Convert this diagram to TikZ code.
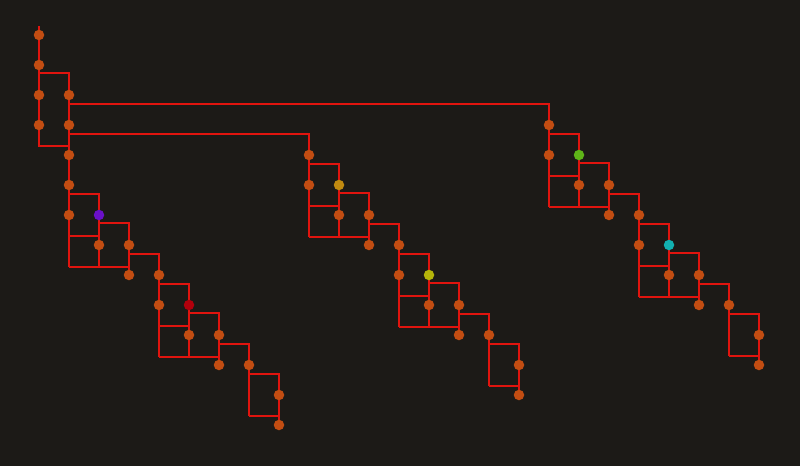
\documentclass[tikz,border=0pt]{standalone}
\usepackage{xcolor}
\definecolor{bg}{HTML}{1C1A17}
\definecolor{ln}{HTML}{E0140E}
\definecolor{dt}{HTML}{C24D12}
\definecolor{cpurple}{HTML}{6A10C8}
\definecolor{cred}{HTML}{B2000C}
\definecolor{camber}{HTML}{C08A10}
\definecolor{cyellow}{HTML}{B4B40A}
\definecolor{cgreen}{HTML}{5EB418}
\definecolor{ccyan}{HTML}{12B0B0}
\tikzset{
  wire/.style={draw=ln,line width=1.3pt},
  dot/.style={circle,fill=#1,draw=none,minimum size=10.5pt,inner sep=0pt},
  dot/.default=dt
}
% stair block: #1 x0, #2 y0, #3 prefix, #4 colour of second-column dot
\newcommand\stairblk[4]{%
  \begin{scope}[shift={(#1,#2)}]
    \draw[wire] (0,9) -- (30,9) -- (30,82);
    \draw[wire] (0,51) -- (30,51);
    \draw[wire] (30,38) -- (60,38) -- (60,90);
    \draw[wire] (0,82) -- (60,82);
    \draw[wire] (60,69) -- (90,69) -- (90,90);
    \node[dot] (#3a) at (0,0) {};
    \node[dot] (#3b) at (0,30) {};
    \node[dot=#4] (#3c) at (30,30) {};
    \node[dot] (#3d) at (30,60) {};
    \node[dot] (#3e) at (60,60) {};
    \node[dot] (#3f) at (60,90) {};
  \end{scope}}
\newcommand\stairtail[3]{%
  \begin{scope}[shift={(#1,#2)}]
    \draw[wire] (0,-21) -- (0,51);
    \draw[wire] (0,9) -- (30,9) -- (30,60);
    \draw[wire] (0,51) -- (30,51);
    \node[dot] (#3a) at (0,0) {};
    \node[dot] (#3b) at (30,30) {};
    \node[dot] (#3c) at (30,60) {};
  \end{scope}}
\begin{document}
\begin{tikzpicture}[x=1pt,y=-1pt]
\fill[bg] (0,0) rectangle (800,466);
\useasboundingbox (0,0) rectangle (800,466);
% top structure wires
\draw[wire] (39,26) -- (39,146) -- (69,146);
\draw[wire] (39,73) -- (69,73) -- (69,267);
\draw[wire] (69,104) -- (549,104) -- (549,207);
\draw[wire] (69,134) -- (309,134) -- (309,237);
\draw[wire] (159,254) -- (159,357);
\draw[wire] (399,224) -- (399,327);
\draw[wire] (639,194) -- (639,297);
% section A
\stairblk{69}{185}{A1}{cpurple}
\stairblk{159}{275}{A2}{cred}
\stairtail{249}{365}{At}
% section B
\stairblk{309}{155}{B1}{camber}
\stairblk{399}{245}{B2}{cyellow}
\stairtail{489}{335}{Bt}
% section C
\stairblk{549}{125}{C1}{cgreen}
\stairblk{639}{215}{C2}{ccyan}
\stairtail{729}{305}{Ct}
% top dots
\node[dot] (t1) at (39,35) {};
\node[dot] (t2) at (39,65) {};
\node[dot] (t3) at (39,95) {};
\node[dot] (t4) at (39,125) {};
\node[dot] (u1) at (69,95) {};
\node[dot] (u2) at (69,125) {};
\node[dot] (u3) at (69,155) {};
\end{tikzpicture}
\end{document}
